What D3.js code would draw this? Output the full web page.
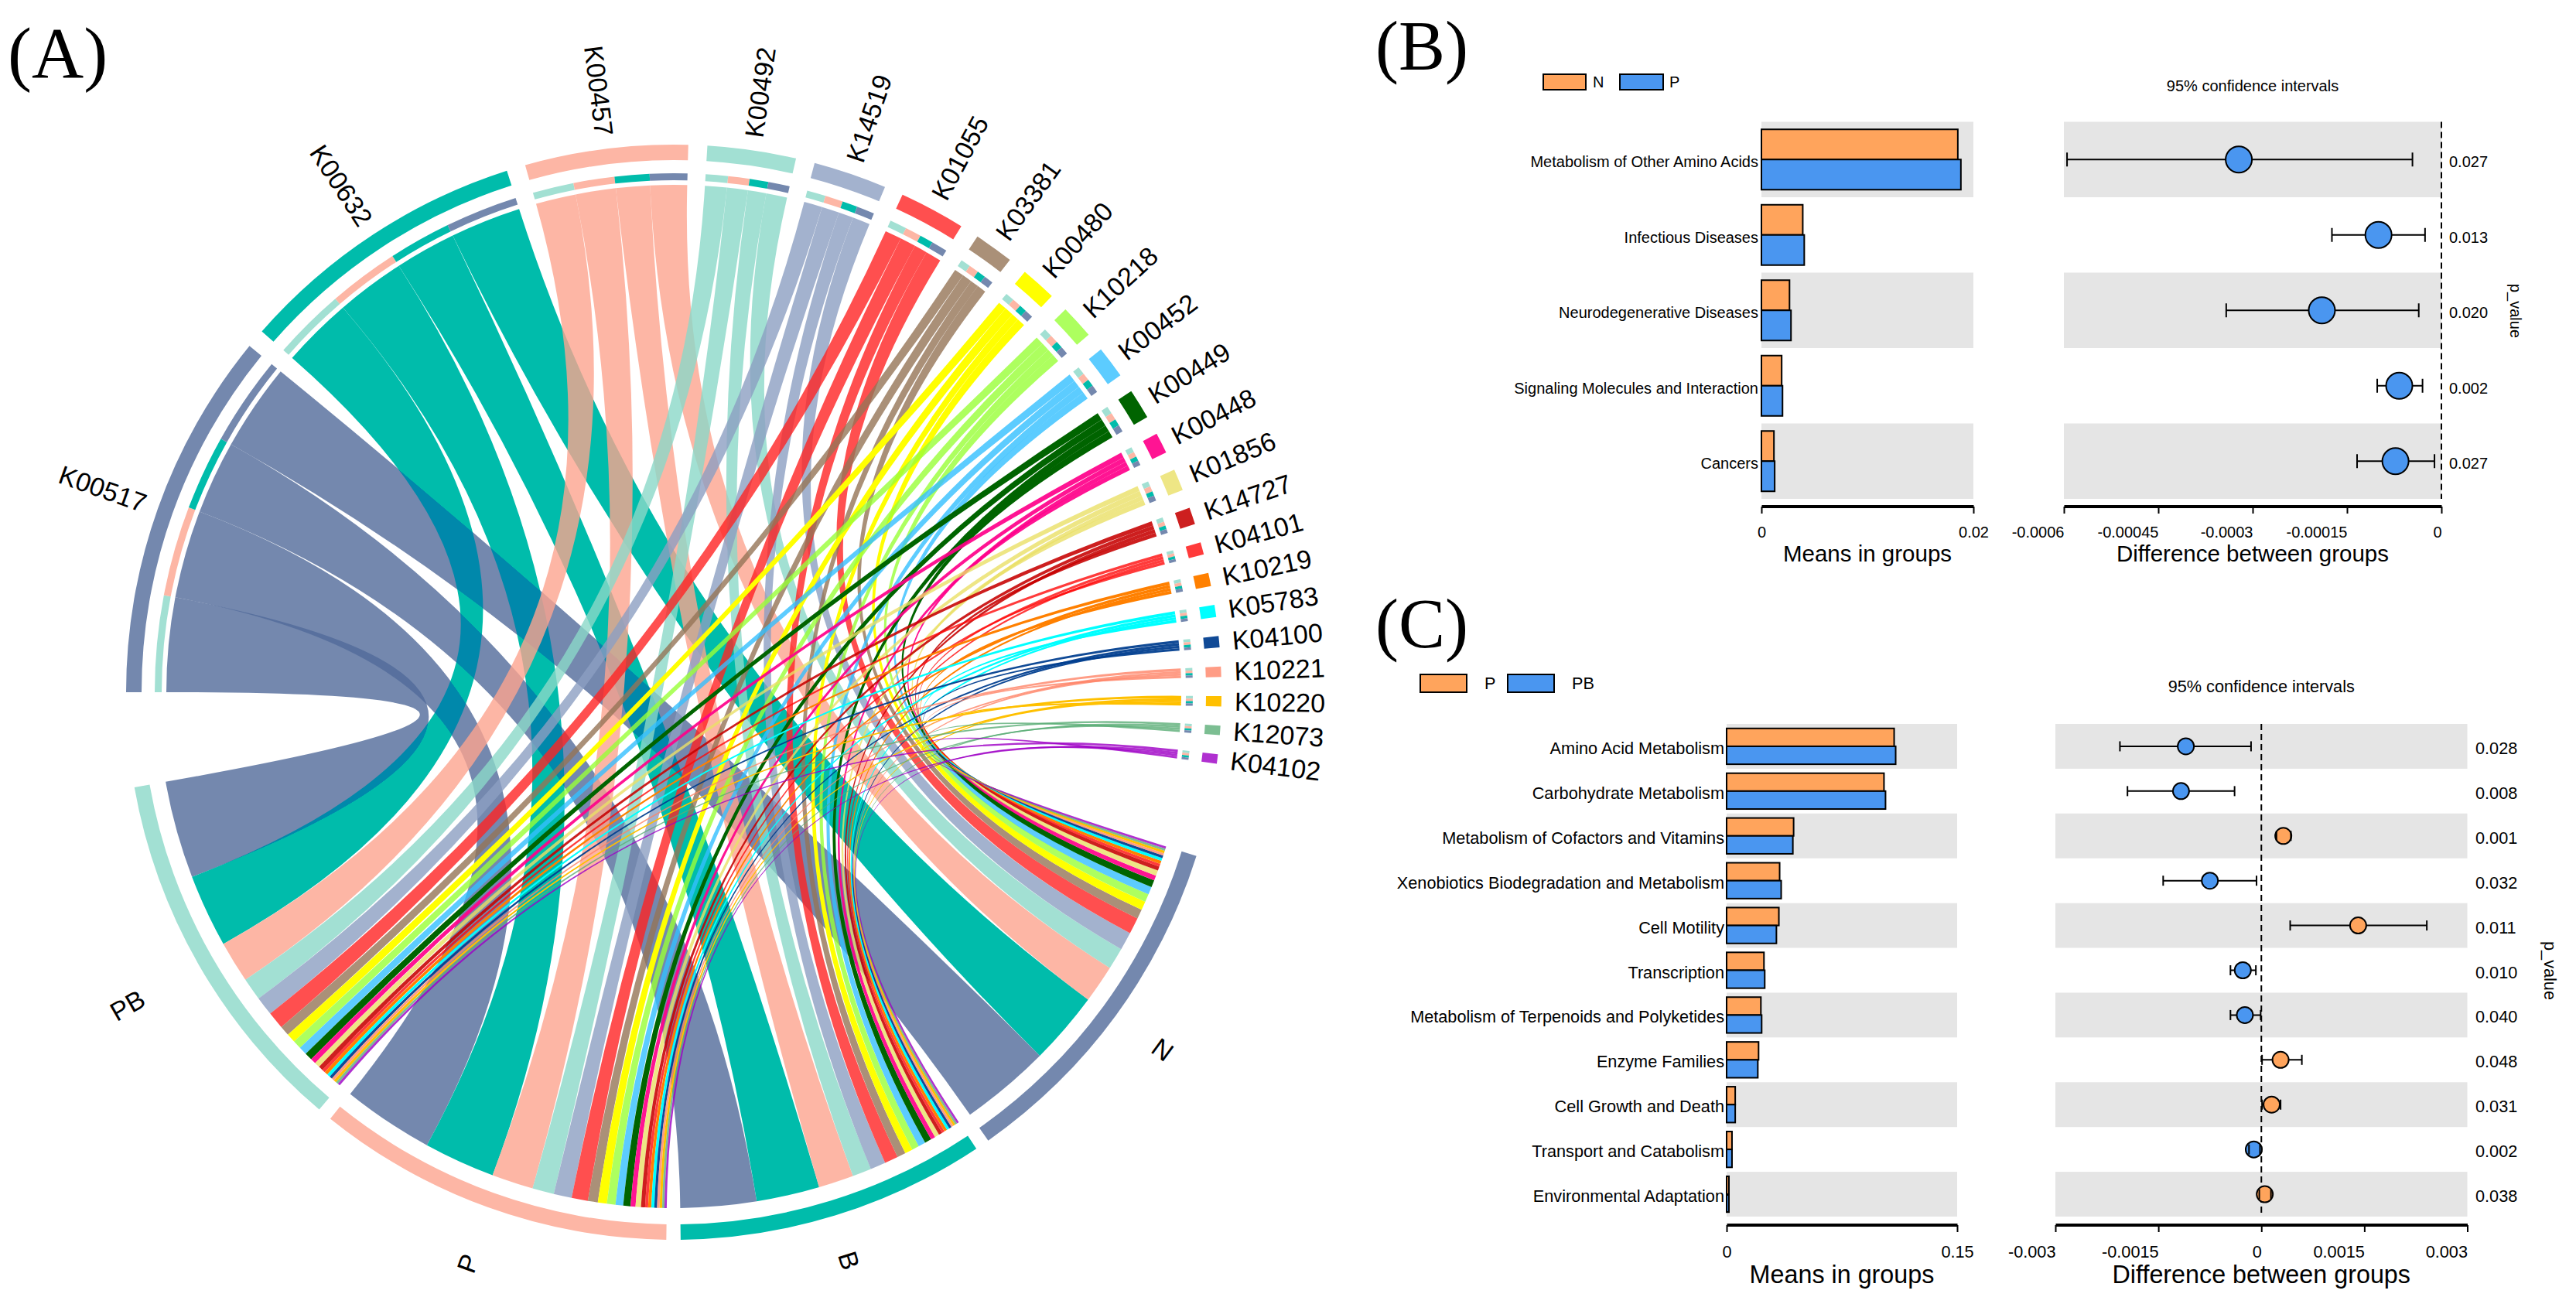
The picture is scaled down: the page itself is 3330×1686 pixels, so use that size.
<!DOCTYPE html>
<html><head><meta charset="utf-8">
<script src="https://cdn.jsdelivr.net/npm/d3@7/dist/d3.min.js"></script>
<style>html,body{margin:0;padding:0;background:#fff}svg{display:block}text{font-family:"Liberation Sans",Arial,sans-serif;fill:#000}.serif{font-family:"Liberation Serif",serif}</style>
</head><body><svg id="c" width="3330" height="1686"></svg>
<script>
// ---- Panel A data
const koNames=["K00517","K00632","K00457","K00492","K14519","K01055","K03381","K00480","K10218","K00452","K00449","K00448","K01856","K14727","K04101","K10219","K05783","K04100","K10221","K10220","K12073","K04102"];
const koColors=["#7488AE","#00BCAB","#FDB6A5","#A2E0D3","#A3B2CE","#FF4F4F","#AA9078","#FFFF00","#ADFF5F","#5CCCFF","#006400","#FF1493","#EEE685","#CD1F1F","#FF3B3B","#FF8000","#00FFFF","#104A96","#FF9C85","#FFC000","#7CBE92","#B030D0"];
const groupNames=["PB","P","B","N"];
const groupColors=["#A2E0D3","#FDB6A5","#00BCAB","#7488AE"];
const toPB=[10.8,8.1,4.6,2.5,2.1,1.9,1.1,1,.95,.9,.85,.6,.6,.5,.35,.38,.35,.32,.3,.3,.27,.27];
const toP=[10.1,7.9,4.6,2.4,2,1.8,1.1,1,.95,.85,.8,.55,.6,.45,.33,.35,.33,.3,.28,.28,.25,.25];
const toB=[8.4,7,3.9,2.1,1.7,1.5,.95,.85,.8,.8,.75,.5,.5,.4,.3,.32,.3,.28,.25,.25,.23,.23];
const toN=[10,8.1,4.2,2.4,2,1.8,1.05,.95,.9,.85,.8,.55,.6,.45,.32,.35,.32,.3,.27,.27,.25,.25];
// ---- Panel B data
const bCats=["Metabolism of Other Amino Acids","Infectious Diseases","Neurodegenerative Diseases","Signaling Molecules and Interaction","Cancers"];
const bN=[.01853,.0039,.00265,.00191,.00118];
const bP=[.01882,.00404,.00279,.00199,.00125];
const bDiff=[-.000322,-.0001,-.00019,-.000067,-.000073];
const bLo=[-.000595,-.000174,-.000342,-.000102,-.000134];
const bHi=[-.000046,-.000026,-.000036,-.00003,-.000011];
const bPval=["0.027","0.013","0.020","0.002","0.027"];
const bLegend=["N","P"];
const bMeanTicks=[0,.02];
const bDiffTicks=[-.0006,-.00045,-.0003,-.00015,0];
// ---- Panel C data
const cCats=["Amino Acid Metabolism","Carbohydrate Metabolism","Metabolism of Cofactors and Vitamins","Xenobiotics Biodegradation and Metabolism","Cell Motility","Transcription","Metabolism of Terpenoids and Polyketides","Enzyme Families","Cell Growth and Death","Transport and Catabolism","Environmental Adaptation"];
const cP=[.109,.1024,.0436,.0345,.034,.0243,.0223,.0208,.0056,.0035,.0015];
const cPB=[.11,.1034,.0431,.0355,.0324,.0248,.0228,.0203,.0056,.0035,.0015];
const cDiff=[-.0011,-.00117,.00032,-.00075,.00141,-.00027,-.00024,.00028,.00015,-.00011,.00005];
const cLo=[-.00206,-.00195,.00022,-.00143,.00042,-.00045,-.00045,.00001,.00001,-.00018,-.00003];
const cHi=[-.00015,-.00039,.00043,-.00007,.00241,-.00008,-.00001,.00059,.00028,-.00002,.00014];
const cPval=["0.028","0.008","0.001","0.032","0.011","0.010","0.040","0.048","0.031","0.002","0.038"];
const cLegend=["P","PB"];
const cMeanTicks=[0,.15];
const cDiffTicks=[-.003,-.0015,0,.0015,.003];

const ORANGE="#FFA45C",BLUE="#4A96F0",GRAY="#E5E5E5";
const svg=d3.select("#c");
const rad=d=>d*Math.PI/180;
function txt(p,x,y,s,size,anchor,cls){return p.append("text").attr("x",x).attr("y",y).attr("font-size",size).attr("text-anchor",anchor||"start").attr("class",cls||null).text(s);}
// colour c' and alpha such that c' at alpha over white looks like c
function translucent(hex){
  const c=d3.rgb(hex);
  const a=Math.max(.8,...[c.r,c.g,c.b].map(v=>(255-v)/255));
  const f=v=>Math.max(0,Math.min(255,(v-(1-a)*255)/a));
  return {fill:d3.rgb(f(c.r),f(c.g),f(c.b)).formatHex(),alpha:a};
}

// ===== Panel A =====
txt(svg,10,100,"(A)",93,"start","serif");
const A=svg.append("g").attr("transform","translate(871,895)");
const rows=[toPB,toP,toB,toN];
const koTotals=koNames.map((_,i)=>d3.sum(rows,r=>r[i]));
const groupTotals=rows.map(r=>d3.sum(r));
const kGap=2.0,gGap=1.5;
const kScale=d3.scaleLinear().domain([0,d3.sum(koTotals)]).range([0,187.5-kGap*21]);
const gScale=d3.scaleLinear().domain([0,d3.sum(groupTotals)]).range([0,152.6-gGap*3]);
let cur=270;const koSec=koTotals.map(v=>{const s=cur,e=s+kScale(v);cur=e+kGap;return{s,e};});
cur=467.4;const gSec=[];[3,2,1,0].forEach(g=>{const s=cur,e=s+gScale(groupTotals[g]);gSec[g]={s,e};cur=e+gGap;});
const R={oo:708,oi:688,ti:671,to:662,kLink:656,gLink:667};
const groupLabelR=[814,785,769,783];
const arc=d3.arc();
function ringSeg(inner,outer,s,e,color,p){p.append("path").attr("d",arc({innerRadius:inner,outerRadius:outer,startAngle:rad(s),endAngle:rad(e)})).attr("fill",color);}
const ribbon=d3.ribbon().sourceRadius(R.kLink).targetRadius(R.gLink);
const gRibbons=A.append("g").style("isolation","isolate");
gRibbons.append("circle").attr("r",720).attr("fill","#fff");
const gCursor=gSec.map(g=>g.e);
koNames.forEach((k,i)=>{
  let a=koSec[i].s;
  const t=translucent(koColors[i]);
  rows.forEach((r,g)=>{
    const w=kScale(r[i]);const tw=gScale(r[i]);
    const te=gCursor[g],ts=te-tw;gCursor[g]=ts;
    const p=gRibbons.append("path").attr("d",ribbon({source:{startAngle:rad(a),endAngle:rad(a+w)},target:{startAngle:rad(ts),endAngle:rad(te)}}));
    if(koColors[i]==="#00BCAB") p.attr("fill",koColors[i]).style("mix-blend-mode","darken");
    else p.attr("fill",t.fill).attr("fill-opacity",t.alpha);
    ringSeg(R.to,R.ti,a,a+w,groupColors[g],A);
    a+=w;
  });
  ringSeg(R.oi,R.oo,koSec[i].s,koSec[i].e,koColors[i],A);
  const mid=(koSec[i].s+koSec[i].e)/2,m=((mid%360)+360)%360;
  const left=m>180,rot=left?m-270:m-90,ra=rad(m-90);
  const lr=725;
  A.append("text").attr("transform",`translate(${lr*Math.cos(ra)},${lr*Math.sin(ra)}) rotate(${rot})`).attr("text-anchor",left?"end":"start").attr("dy",".35em").attr("font-size",34).text(k);
});
groupNames.forEach((g,i)=>{
  ringSeg(R.oi,R.oo,gSec[i].s,gSec[i].e,groupColors[i],A);
  const m=((gSec[i].s+gSec[i].e)/2)%360,left=m>180,rot=left?m-270:m-90,ra=rad(m-90),lr=groupLabelR[i];
  A.append("text").attr("transform",`translate(${lr*Math.cos(ra)},${lr*Math.sin(ra)}) rotate(${rot})`).attr("text-anchor","middle").attr("dy",".35em").attr("font-size",34).text(g);
});

// ===== Panels B / C =====
function panel(o){
  const n=o.cats.length;
  const y=d3.scaleBand().domain(d3.range(n)).range([o.top,o.bottom]);
  const barH=y.bandwidth()*.4;
  const xm=d3.scaleLinear().domain(o.meanDomain).range(o.meanRange);
  const xd=d3.scaleLinear().domain(o.diffDomain).range(o.diffRange);
  const g=svg.append("g");
  d3.range(n).filter(i=>i%2==0).forEach(i=>{
    g.append("rect").attr("x",o.meanRange[0]).attr("y",y(i)).attr("width",o.meanRange[1]-o.meanRange[0]).attr("height",y.bandwidth()).attr("fill",GRAY);
    g.append("rect").attr("x",o.diffRange[0]).attr("y",y(i)).attr("width",o.diffRange[1]-o.diffRange[0]).attr("height",y.bandwidth()).attr("fill",GRAY);
  });
  d3.range(n).forEach(i=>{
    const c=y(i)+y.bandwidth()/2;
    g.append("rect").attr("x",xm(0)).attr("y",c-barH).attr("width",xm(o.a[i])-xm(0)).attr("height",barH).attr("fill",ORANGE).attr("stroke","#000").attr("stroke-width",2);
    g.append("rect").attr("x",xm(0)).attr("y",c).attr("width",xm(o.b[i])-xm(0)).attr("height",barH).attr("fill",BLUE).attr("stroke","#000").attr("stroke-width",2);
    txt(g,o.labelX,c+o.textDy,o.cats[i],o.fs,"end");
    txt(g,o.pX,c+o.textDy,o.pv[i],o.fs,"start");
  });
  g.append("line").attr("x1",xd(0)).attr("x2",xd(0)).attr("y1",o.top).attr("y2",o.bottom).attr("stroke","#000").attr("stroke-width",2).attr("stroke-dasharray","8,5");
  d3.range(n).forEach(i=>{
    const c=y(i)+y.bandwidth()/2;
    g.append("line").attr("x1",xd(o.lo[i])).attr("x2",xd(o.hi[i])).attr("y1",c).attr("y2",c).attr("stroke","#000").attr("stroke-width",2);
    g.append("circle").attr("cx",xd(o.d[i])).attr("cy",c).attr("r",o.r).attr("fill",o.d[i]>0?ORANGE:BLUE).attr("stroke","#000").attr("stroke-width",2);
    [o.lo[i],o.hi[i]].forEach(v=>g.append("line").attr("x1",xd(v)).attr("x2",xd(v)).attr("y1",c-o.cap).attr("y2",c+o.cap).attr("stroke","#000").attr("stroke-width",2));
  });
  const ax1=g.append("g").attr("transform",`translate(0,${o.axisY})`).call(d3.axisBottom(xm).tickValues(o.meanTicks).tickFormat(String).tickSize(-o.tick).tickPadding(0));
  const ax2=g.append("g").attr("transform",`translate(0,${o.axisY})`).call(d3.axisBottom(xd).tickValues(o.diffTicks).tickFormat(String).tickSize(-o.tick).tickPadding(0));
  [ax1,ax2].forEach(a=>{a.select(".domain").attr("stroke-width",4).attr("d",function(){return d3.select(this).attr("d").replace(/V[-\d.]+/g,"");});a.selectAll(".tick line").attr("stroke-width",2);a.selectAll("text").attr("font-size",o.fs).attr("font-family",null).attr("y",o.tickDy).attr("dy",0);});
  ax2.selectAll("text").attr("text-anchor","end");
  txt(g,(o.meanRange[0]+o.meanRange[1])/2,o.axisTitleY,"Means in groups",o.tfs,"middle");
  txt(g,(o.diffRange[0]+o.diffRange[1])/2,o.axisTitleY,"Difference between groups",o.tfs,"middle");
  txt(g,(o.diffRange[0]+o.diffRange[1])/2,o.ciY,"95% confidence intervals",o.fs,"middle");
  g.append("text").attr("transform",`translate(${o.pvTitle[0]},${o.pvTitle[1]}) rotate(90)`).attr("text-anchor","middle").attr("font-size",o.fs).text("p_value");
  o.legend.forEach((l,i)=>{
    const b=o.leg[i];
    g.append("rect").attr("x",b[0]).attr("y",o.legY).attr("width",b[1]).attr("height",o.legH).attr("fill",i?BLUE:ORANGE).attr("stroke","#000").attr("stroke-width",2);
    txt(g,b[2],o.legY+o.legH/2+o.fs*.35,l,o.fs);
  });
  txt(g,o.tag[0],o.tag[1],o.tag[2],90,"start","serif");
}
panel({cats:bCats,a:bN,b:bP,d:bDiff,lo:bLo,hi:bHi,pv:bPval,legend:bLegend,meanTicks:bMeanTicks,diffTicks:bDiffTicks,
 top:157.5,bottom:645,meanDomain:[0,.02],meanRange:[2277,2551],diffDomain:[-.0006,0],diffRange:[2668,3156],
 labelX:2273,pX:3166,textDy:10,fs:20,tfs:29.5,cap:9,r:17,axisY:664,tick:9,tickDy:31,axisTitleY:726,ciY:118,pvTitle:[3245,402],
 leg:[[1995,55,2059],[2094,56,2158]],legY:96,legH:20,tag:[1778,90,"(B)"]});
panel({cats:cCats,a:cP,b:cPB,d:cDiff,lo:cLo,hi:cHi,pv:cPval,legend:cLegend,meanTicks:cMeanTicks,diffTicks:cDiffTicks,
 top:936,bottom:1573,meanDomain:[0,.15],meanRange:[2232,2530],diffDomain:[-.003,.003],diffRange:[2657,3189.5],
 labelX:2229,pX:3200,textDy:10,fs:21.7,tfs:32.3,cap:6.5,r:10.5,axisY:1593,tick:9,tickDy:33,axisTitleY:1659,ciY:895,pvTitle:[3289,1255],
 leg:[[1836,60,1919],[1949,60,2032]],legY:872,legH:23,tag:[1778,837,"(C)"]});
</script></body></html>
